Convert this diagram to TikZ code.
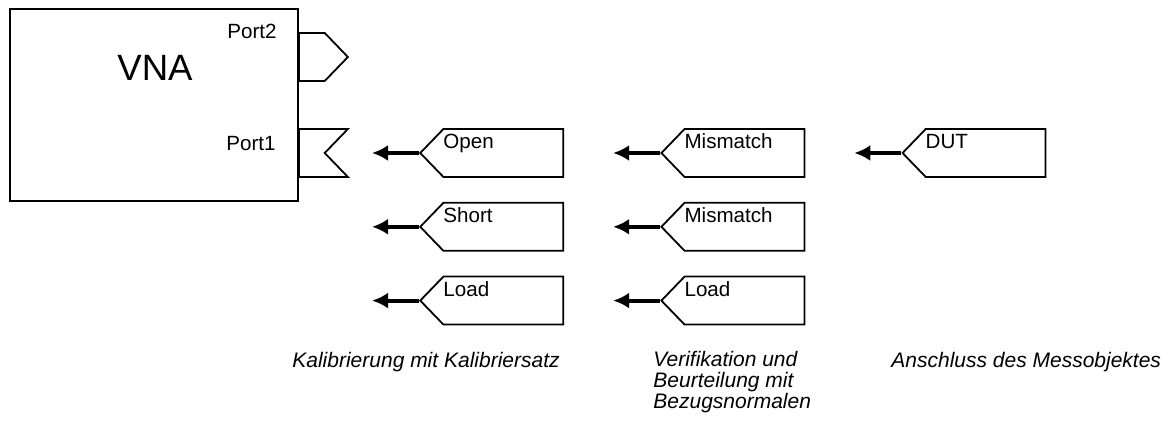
\documentclass[tikz,border=0pt]{standalone}
\usepackage{fontspec}
\setmainfont{Liberation Sans}
\usetikzlibrary{shapes.symbols, arrows.meta, positioning}
\tikzstyle{device} = [rectangle, minimum width=144pt, minimum height=96pt, draw=black, line width=0.9pt]
\tikzstyle{port} = [signal, signal pointer angle=92, minimum width=24.5pt, minimum height=24pt, inner sep=0pt, draw=black, line width=0.9pt, anchor=west]
\tikzstyle{plug} = [signal, signal to=west, signal from=nowhere, signal pointer angle=92, minimum width=71.5pt, minimum height=24pt, inner sep=0pt, draw=black, line width=0.9pt, anchor=west]
\tikzstyle{tag} = [font=\fontsize{10.3pt}{12pt}\selectfont, inner sep=0pt]
\tikzstyle{caption} = [font=\fontsize{10.5pt}{10.5pt}\selectfont\itshape, inner sep=0pt, align=left, anchor=base west]
\tikzstyle{arrow} = [line width=2pt, -{Latex[length=8pt,width=8pt]}]

\begin{document}
\begin{tikzpicture}[x=0.5pt, y=-0.5pt]
			\useasboundingbox (0,0) rectangle (1169,421);
			% analyser with its two ports
			\node (vna) [device] at (154,105) {};
			\node (vnalabel) [font=\fontsize{18.3pt}{20pt}\selectfont, inner sep=0pt] at (155,68) {VNA};
			\node (porttwo) [port, signal from=nowhere, signal to=east] at (298,57) {};
			\node (portone) [port, signal from=east, signal to=nowhere] at (298,153) {};
			\node (porttwotag) [tag, anchor=base east] at (277,39) {Port2};
			\node (portonetag) [tag, anchor=base east] at (276,151) {Port1};
			
			% standards and device under test
			\node (open) [plug] at (419,153) {};
			\node (short) [plug, below=12pt of open] {};
			\node (load) [plug, below=12pt of short] {};
			\node (mismatchA) [plug, right=48pt of open] {};
			\node (mismatchB) [plug, below=12pt of mismatchA] {};
			\node (loadB) [plug, below=12pt of mismatchB] {};
			\node (dut) [plug, right=48pt of mismatchA] {};
			
			\node (opentag) [tag, anchor=base west, xshift=12pt, yshift=2pt] at (open.west) {Open};
			\node (shorttag) [tag, anchor=base west, xshift=12pt, yshift=2pt] at (short.west) {Short};
			\node (loadtag) [tag, anchor=base west, xshift=12pt, yshift=2pt] at (load.west) {Load};
			\node (mismatchAtag) [tag, anchor=base west, xshift=12pt, yshift=2pt] at (mismatchA.west) {Mismatch};
			\node (mismatchBtag) [tag, anchor=base west, xshift=12pt, yshift=2pt] at (mismatchB.west) {Mismatch};
			\node (loadBtag) [tag, anchor=base west, xshift=12pt, yshift=2pt] at (loadB.west) {Load};
			\node (duttag) [tag, anchor=base west, xshift=12pt, yshift=2pt] at (dut.west) {DUT};
			
			% steps
			\node (calib) [caption] at (292,368) {Kalibrierung mit Kalibriersatz};
			\node (verify) [caption] at (653,409) {Verifikation und\\Beurteilung mit\\Bezugsnormalen};
			\node (connect) [caption] at (891,368) {Anschluss des Messobjektes};
			
			\foreach \p in {open, short, load, mismatchA, mismatchB, loadB, dut} {
				\coordinate [left=23.5pt of \p] (\p-end);
				\draw [arrow] (\p.west) -- (\p-end);
			}
		\end{tikzpicture}
\end{document}
